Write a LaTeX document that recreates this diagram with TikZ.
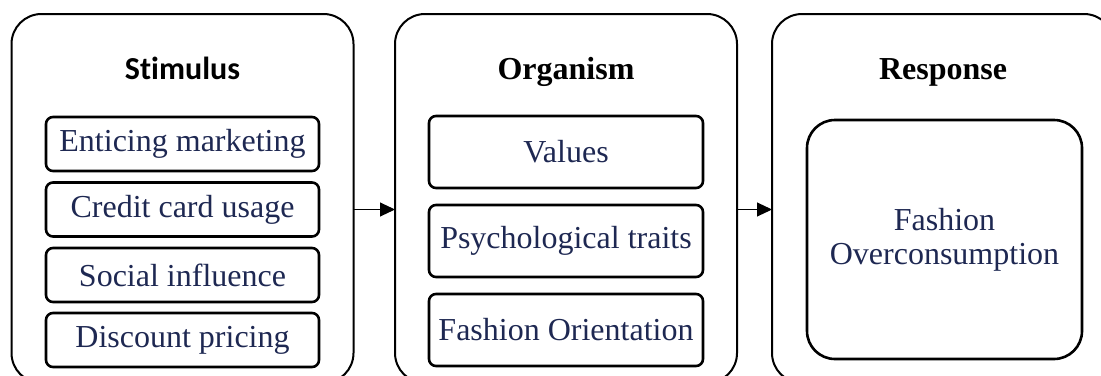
\documentclass[tikz,border=0pt]{standalone}
\usepackage{fontspec}
\setmainfont{Liberation Serif}
\newfontfamily\calfont[Ligatures=NoCommon]{Carlito}
\usetikzlibrary{arrows.meta}

\definecolor{itemnavy}{RGB}{30,40,82}

\tikzset{
  stage/.style={draw, line width=1pt, rounded corners=15pt, minimum width=171pt,
    minimum height=184.5pt, inner sep=0pt, outer sep=0pt},
  title/.style={anchor=base, font=\fontsize{16}{19}\selectfont\bfseries},
  item/.style={draw, line width=1.3pt, rounded corners=3.5pt, inner sep=0pt, outer sep=0pt,
    text=itemnavy, font=\fontsize{16}{19}\selectfont, align=center},
  flow/.style={line width=0.5pt, -{Triangle[length=7.5pt,width=7pt]}}
}

\begin{document}
\begin{tikzpicture}[x=0.5pt, y=-0.5pt]
\useasboundingbox (0,0) rectangle (1101,375);
\clip (0,0) rectangle (1101,375);

% three big stages, cut at the bottom
\node[stage] (stim) at (182.5,198.5) {};
\node[stage] (org)  at (566,198.5) {};
\node[stage] (resp) at (943,198.5) {};

% stage titles
\node[title, font=\fontsize{16}{19}\selectfont\calfont\bfseries] (stimT) at (182.5,79) {Stimulus};
\node[title] (orgT)  at (566,79) {Organism};
\node[title] (respT) at (943,79) {Response};

% stimulus items
\node[item, minimum width=136.5pt, minimum height=27pt] (s1) at (182.5,144) {Enticing marketing};
\node[item, minimum width=136.5pt, minimum height=27pt] (s2) at (182.5,209.5) {Credit card usage};
\node[item, minimum width=136.5pt, minimum height=27pt] (s3) at (182.5,275) {Social influence};
\node[item, minimum width=136.5pt, minimum height=27pt] (s4) at (182.5,340) {Discount pricing};

% organism items
\node[item, minimum width=137pt, minimum height=36pt] (o1) at (566,152) {Values};
\node[item, minimum width=137pt, minimum height=36pt] (o2) at (566,241) {Psychological traits};
\node[item, minimum width=137pt, minimum height=36pt] (o3) at (566,330) {Fashion Orientation};

% response item
\node[item, rounded corners=14pt, minimum width=137.5pt, minimum height=119.5pt] (r1) at (944.5,239.5)
  {Fashion\\[-2pt]Overconsumption};

% arrows between stages
\draw[flow] (stim.east |- s2) -- (org.west |- s2);
\draw[flow] (org.east |- s2) -- (resp.west |- s2);

\end{tikzpicture}
\end{document}
